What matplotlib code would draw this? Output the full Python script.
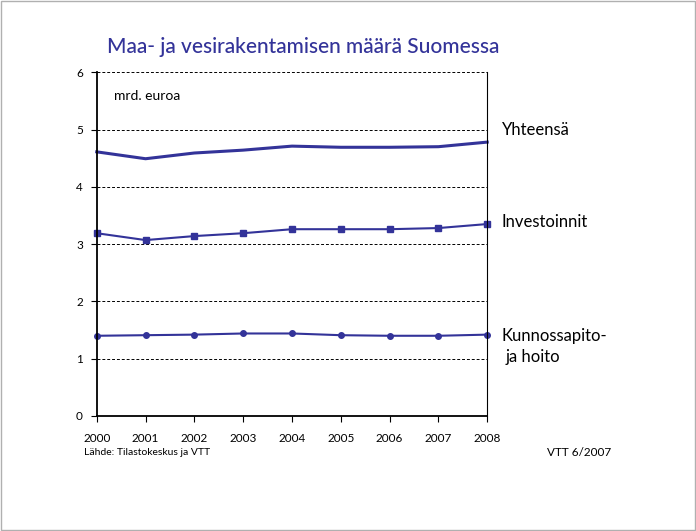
import matplotlib.pyplot as plt
import matplotlib.patches as mpatches

plt.rcParams['font.family'] = ['Lato', 'DejaVu Sans']

years = [2000, 2001, 2002, 2003, 2004, 2005, 2006, 2007, 2008]
yhteensa = [4.61, 4.49, 4.59, 4.64, 4.71, 4.69, 4.69, 4.70, 4.78]
investoinnit = [3.19, 3.07, 3.14, 3.19, 3.26, 3.26, 3.26, 3.28, 3.35]
kunnossapito = [1.40, 1.41, 1.42, 1.44, 1.44, 1.41, 1.40, 1.40, 1.42]

col = '#333399'

fig = plt.figure(figsize=(6.96, 5.31), dpi=100)
fig.patches.append(mpatches.Rectangle((0.001, 0.002), 0.997, 0.996, transform=fig.transFigure,
                                      fill=False, edgecolor='#b0b0b0', linewidth=1))
ax = fig.add_axes([0.139, 0.2166, 0.561, 0.6474])

ax.plot(years, yhteensa, color=col, linewidth=2.2, clip_on=False)
ax.plot(years, investoinnit, color=col, linewidth=1.5, marker='s', markersize=4, clip_on=False)
ax.plot(years, kunnossapito, color=col, linewidth=1.5, marker='o', markersize=4, clip_on=False)

ax.set_xlim(2000, 2008)
ax.set_ylim(0, 6)
ax.set_xticks(years)
ax.set_yticks(range(0, 7))
for y in range(1, 7):
    ax.axhline(y, color='black', linestyle=(0, (3, 2)), linewidth=0.7, zorder=0)

ax.spines['top'].set_visible(False)
ax.spines['left'].set_linewidth(1.3)
ax.spines['bottom'].set_linewidth(1.3)
ax.spines['right'].set_linewidth(0.8)
ax.tick_params(axis='both', labelsize=8.5, length=4, width=0.8, direction='out')
ax.tick_params(axis='y', pad=6)
ax.tick_params(axis='x', pad=8)

ax.text(0.045, 0.93, 'mrd. euroa', transform=ax.transAxes, fontsize=10, va='center')

fig.text(0.435, 0.912, 'Maa- ja vesirakentamisen määrä Suomessa', color=col,
         fontsize=15, ha='center', va='center', fontweight='medium')

fig.text(0.721, 0.755, 'Yhteensä', fontsize=12, va='center')
fig.text(0.721, 0.582, 'Investoinnit', fontsize=12, va='center')
fig.text(0.721, 0.368, 'Kunnossapito-', fontsize=12, va='center')
fig.text(0.727, 0.328, 'ja hoito', fontsize=12, va='center')

fig.text(0.121, 0.148, 'Lähde: Tilastokeskus ja VTT', fontsize=7.5, va='center')
fig.text(0.878, 0.148, 'VTT 6/2007', fontsize=8.5, va='center', ha='right')

fig.savefig('out.png', dpi=100)
